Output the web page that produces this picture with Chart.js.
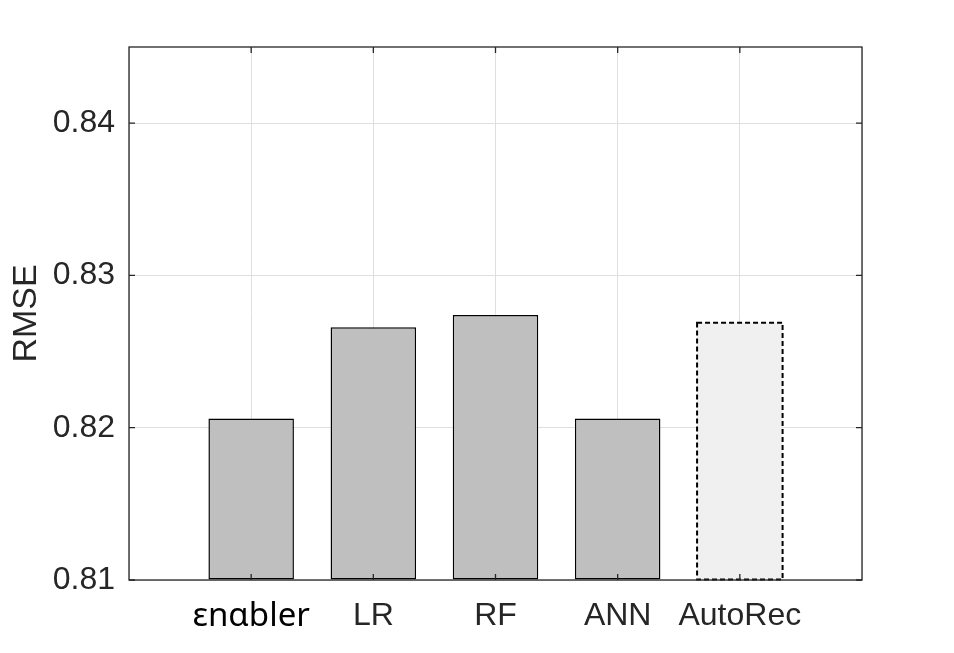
<!DOCTYPE html>
<html>
<head>
<meta charset="utf-8">
<script src="https://cdn.jsdelivr.net/npm/chart.js@4/dist/chart.umd.min.js"></script>
<style>
  body { margin: 0; background: #fff; }
  canvas { display: block; }
</style>
</head>
<body>
<canvas id="rmseChart" width="954" height="653"></canvas>
<script>
// blank first/last slots so the categories sit at 1..5 on a 0..6 range
const categories = ['', 'εnαbler', 'LR', 'RF', 'ANN', 'AutoRec', ''];
const rmse = [null, 0.8206, 0.8266, 0.8274, 0.8206, 0.8269, null];
const yTicks = [0.81, 0.82, 0.83, 0.84];

const axisColor = '#262626';
const gridColor = '#dfdfdf';
const dashedIndex = 5; // AutoRec bar gets the dashed outline

const boxPlugin = {
    id: 'box',
    afterDatasetsDraw(chart) {
        const ctx = chart.ctx;
        const bar = chart.getDatasetMeta(0).data[dashedIndex];
        const p = bar.getProps(['x', 'y', 'base', 'width'], true);
        ctx.save();
        ctx.strokeStyle = '#000';
        ctx.lineWidth = 2;
        ctx.setLineDash([5, 3]);
        ctx.strokeRect(p.x - p.width / 2, p.y, p.width, p.base - p.y);
        ctx.restore();
    },
    afterDraw(chart) {
        const { ctx, chartArea: a, scales: { x, y } } = chart;
        const len = 6;
        ctx.save();
        ctx.strokeStyle = axisColor;
        ctx.lineWidth = 1.3;
        ctx.strokeRect(a.left, a.top, a.right - a.left, a.bottom - a.top);
        ctx.beginPath();
        yTicks.forEach(v => {
            const py = y.getPixelForValue(v);
            ctx.moveTo(a.left, py); ctx.lineTo(a.left + len, py);
            ctx.moveTo(a.right, py); ctx.lineTo(a.right - len, py);
        });
        categories.forEach((c, i) => {
            if (!c) return;
            const px = x.getPixelForValue(i);
            ctx.moveTo(px, a.bottom); ctx.lineTo(px, a.bottom - len);
            ctx.moveTo(px, a.top); ctx.lineTo(px, a.top + len);
        });
        ctx.stroke();
        ctx.restore();
    }
};

new Chart(document.getElementById('rmseChart'), {
    type: 'bar',
    data: {
        labels: categories,
        datasets: [{
            data: rmse,
            base: 0.81,
            backgroundColor: rmse.map((v, i) => i === dashedIndex ? '#f0f0f0' : '#bfbfbf'),
            borderColor: '#000',
            borderWidth: rmse.map((v, i) => i === dashedIndex ? 0 : 1.5),
            borderSkipped: false,
            barPercentage: 0.7,
            categoryPercentage: 1.0
        }]
    },
    options: {
        responsive: false,
        animation: false,
        layout: { padding: { left: 0, right: 92, top: 47, bottom: 0 } },
        plugins: {
            legend: { display: false },
            tooltip: { enabled: false }
        },
        scales: {
            x: {
                offset: false,
                grid: { color: gridColor, drawTicks: false, offset: false },
                border: { display: false },
                ticks: {
                    autoSkip: false,
                    maxRotation: 0,
                    padding: 17,
                    color: ctx => ctx.index === 1 ? '#000' : axisColor,
                    font: ctx => ctx.index === 1
                        ? { family: 'Noto Sans', size: 33 }
                        : { family: 'Liberation Sans', size: 32 }
                },
                afterFit: scale => { scale.height = 73; }
            },
            y: {
                min: 0.81,
                max: 0.845,
                grid: { color: gridColor, drawTicks: false },
                border: { display: false },
                afterBuildTicks: scale => {
                    scale.ticks = yTicks.map(v => ({ value: v }));
                },
                ticks: {
                    padding: 14,
                    color: axisColor,
                    font: { family: 'Liberation Sans', size: 32 },
                    callback: v => v.toFixed(2)
                },
                title: {
                    display: true,
                    text: 'RMSE',
                    color: axisColor,
                    font: { family: 'Liberation Sans', size: 34 },
                    padding: { top: 6, bottom: 0 }
                },
                afterFit: scale => { scale.width = 129; }
            }
        }
    },
    plugins: [boxPlugin]
});
</script>
</body>
</html>
